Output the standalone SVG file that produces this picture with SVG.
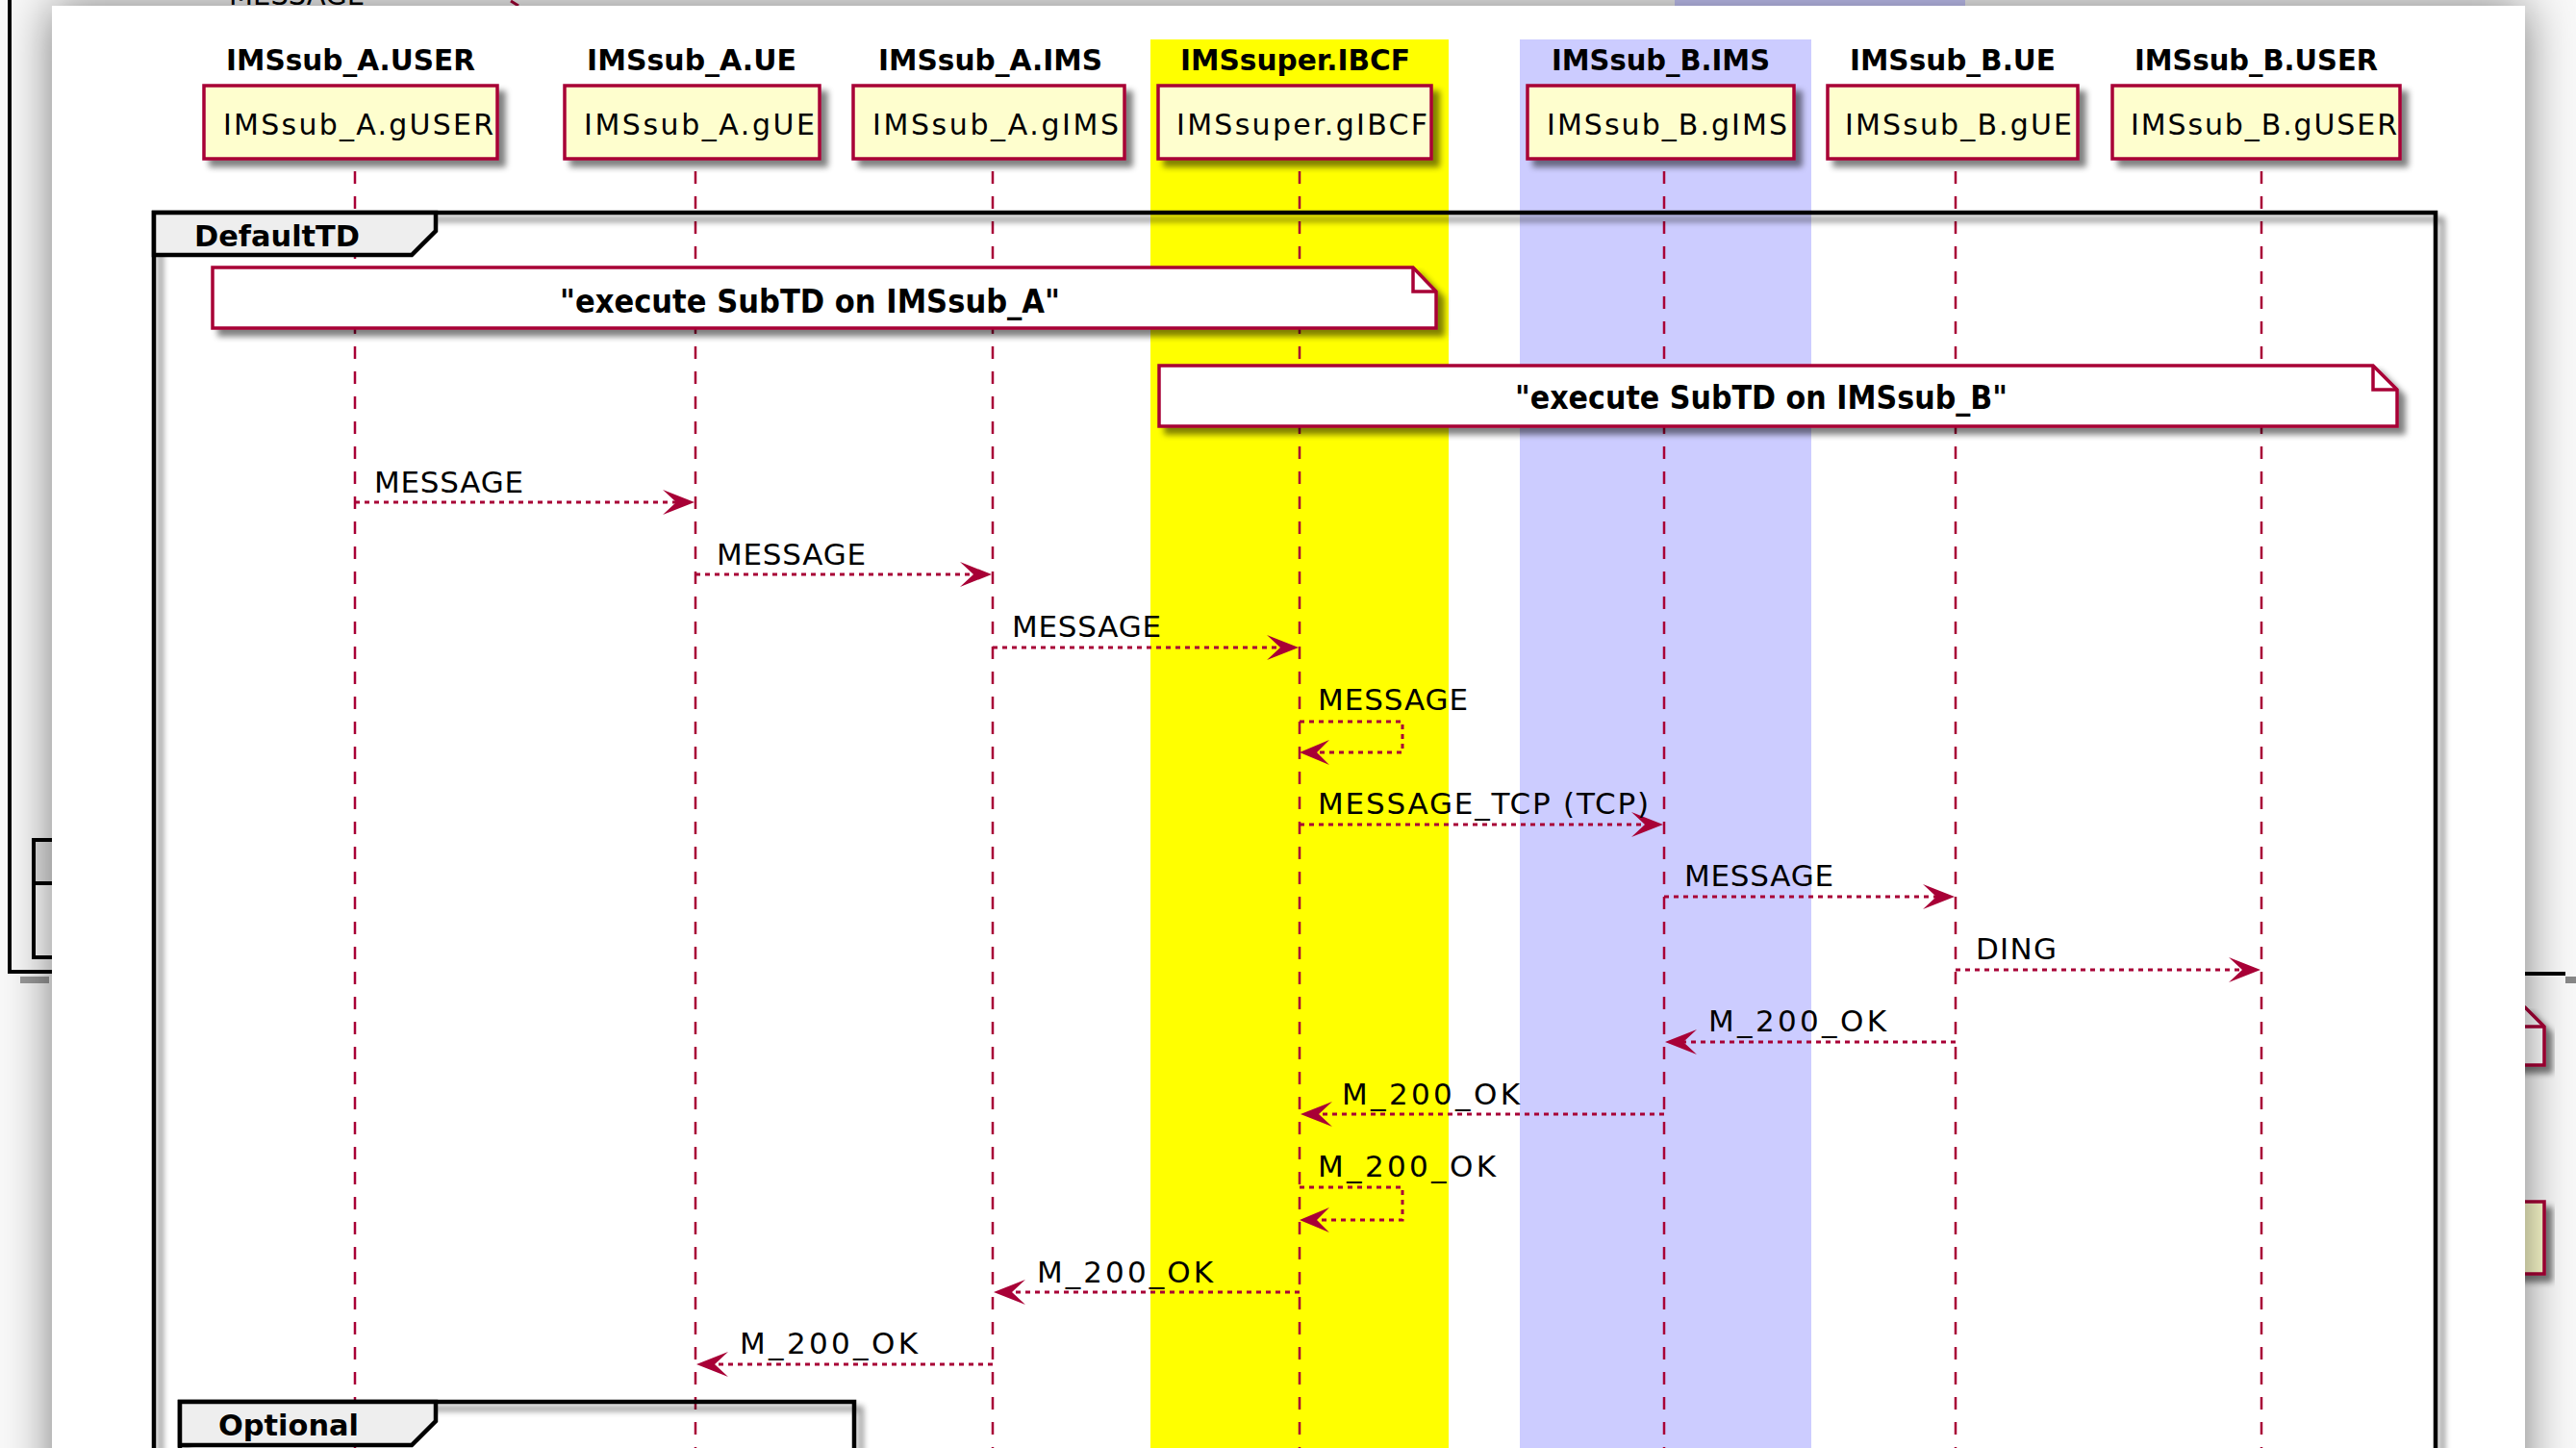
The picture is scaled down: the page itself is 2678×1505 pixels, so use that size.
<svg xmlns="http://www.w3.org/2000/svg" width="2678" height="1505" viewBox="0 0 2678 1505">
<defs>
<style>
.ll{stroke:#A80036;stroke-width:2.5;stroke-dasharray:13,13;fill:none}
.msg{stroke:#A80036;stroke-width:3;stroke-dasharray:5,5;fill:none}
.ah{fill:#A80036;stroke:none}
.pbox{fill:#FEFECE;stroke:#A80036;stroke-width:3.5}
.note{fill:#FFFFFF;stroke:#A80036;stroke-width:3.5}
.fold{fill:none;stroke:#A80036;stroke-width:3.5}
.frm{fill:none;stroke:#000;stroke-width:4.5}
.tab{fill:#EEEEEE;stroke:#000;stroke-width:4.5}
text{font-family:'DejaVu Sans','Liberation Sans',sans-serif;fill:#000}
.tt{font-size:31px;font-weight:bold}
.bt{font-size:30px}
.lb{font-size:31px}
.nt{font-size:34px;font-weight:bold}
.ft{font-size:30px;font-weight:bold}
</style>
<filter id="sh" x="-10%" y="-10%" width="130%" height="150%">
<feGaussianBlur in="SourceAlpha" stdDeviation="3"/>
<feOffset dx="7" dy="7"/>
<feComponentTransfer><feFuncA type="linear" slope="0.5"/></feComponentTransfer>
<feMerge><feMergeNode/><feMergeNode in="SourceGraphic"/></feMerge>
</filter>
<filter id="psh" x="-10%" y="-10%" width="120%" height="120%">
<feGaussianBlur stdDeviation="25"/>
</filter>
</defs>

<!-- background window (dimmed) -->
<g id="background">
<rect x="0" y="0" width="2678" height="1505" fill="#f8f8f8"/>
<rect x="1741" y="0" width="302" height="20" fill="#CCCCFF"/>
<text x="238" y="5" class="lb" textLength="141" lengthAdjust="spacingAndGlyphs">MESSAGE</text>
<line x1="531" y1="1" x2="539" y2="6" stroke="#A80036" stroke-width="3"/>
<line x1="10" y1="0" x2="10" y2="1012" stroke="#000" stroke-width="4"/>
<line x1="8" y1="1010" x2="70" y2="1010" stroke="#000" stroke-width="4"/>
<rect x="21" y="1015" width="30" height="7" fill="#999"/>
<rect x="35" y="873" width="40" height="122" fill="#ffffff" stroke="#000" stroke-width="4"/>
<rect x="37" y="875" width="36" height="43" fill="#e4e4e4"/>
<line x1="35" y1="918" x2="75" y2="918" stroke="#000" stroke-width="4"/>
<line x1="2600" y1="1012" x2="2667" y2="1012" stroke="#000" stroke-width="4"/>
<rect x="2667" y="1015" width="11" height="7" fill="#888"/>
<g filter="url(#sh)">
<path d="M2590,1047 L2625,1047 L2645,1067 L2645,1107 L2590,1107 Z" class="note"/>
</g>
<line x1="2625" y1="1067" x2="2645" y2="1067" class="fold"/>
<rect x="2590" y="1249" width="55" height="75" class="pbox" filter="url(#sh)"/>
<rect x="54" y="6" width="2571" height="1560" fill="#000" opacity="0.5" filter="url(#psh)"/>
</g>

<!-- main panel -->
<rect id="panel" x="54" y="6" width="2571" height="1520" fill="#ffffff"/>

<g id="bands">
<rect x="1196" y="41" width="310" height="1470" fill="#FFFF00"/>
<rect x="1580" y="41" width="303" height="1470" fill="#CCCCFF"/>
</g>

<g id="lifelines">
<line class="ll" x1="369" y1="178" x2="369" y2="1505"/>
<line class="ll" x1="723" y1="178" x2="723" y2="1505"/>
<line class="ll" x1="1032" y1="178" x2="1032" y2="1505"/>
<line class="ll" x1="1351" y1="178" x2="1351" y2="1505"/>
<line class="ll" x1="1730" y1="178" x2="1730" y2="1505"/>
<line class="ll" x1="2033" y1="178" x2="2033" y2="1505"/>
<line class="ll" x1="2351" y1="178" x2="2351" y2="1505"/>
</g>

<g id="frame-DefaultTD">
<rect class="frm" x="160" y="221" width="2372" height="1400" filter="url(#sh)"/>
<path class="tab" d="M160,221 L453,221 L453,240 L428,265 L160,265 Z"/>
<text class="ft" x="202" y="256" textLength="172" lengthAdjust="spacingAndGlyphs">DefaultTD</text>
</g>

<g id="frame-Optional">
<rect class="frm" x="187" y="1457" width="701" height="200" filter="url(#sh)"/>
<path class="tab" d="M187,1457 L453,1457 L453,1477 L428,1502 L187,1502 Z"/>
<text class="ft" x="227" y="1492" textLength="146" lengthAdjust="spacingAndGlyphs">Optional</text>
</g>

<g id="titles">
<text class="tt" x="235" y="73" textLength="259" lengthAdjust="spacingAndGlyphs">IMSsub_A.USER</text>
<text class="tt" x="610" y="73" textLength="218" lengthAdjust="spacingAndGlyphs">IMSsub_A.UE</text>
<text class="tt" x="913" y="73" textLength="233" lengthAdjust="spacingAndGlyphs">IMSsub_A.IMS</text>
<text class="tt" x="1227" y="73" textLength="239" lengthAdjust="spacingAndGlyphs">IMSsuper.IBCF</text>
<text class="tt" x="1613" y="73" textLength="227" lengthAdjust="spacingAndGlyphs">IMSsub_B.IMS</text>
<text class="tt" x="1923" y="73" textLength="214" lengthAdjust="spacingAndGlyphs">IMSsub_B.UE</text>
<text class="tt" x="2219" y="73" textLength="253" lengthAdjust="spacingAndGlyphs">IMSsub_B.USER</text>
</g>

<g id="p-A-gUSER"><rect class="pbox" x="212" y="89" width="305" height="76" filter="url(#sh)"/><text class="bt" x="232" y="140" textLength="281" lengthAdjust="spacing">IMSsub_A.gUSER</text></g>
<g id="p-A-gUE"><rect class="pbox" x="587" y="89" width="265" height="76" filter="url(#sh)"/><text class="bt" x="607" y="140" textLength="240" lengthAdjust="spacing">IMSsub_A.gUE</text></g>
<g id="p-A-gIMS"><rect class="pbox" x="887" y="89" width="282" height="76" filter="url(#sh)"/><text class="bt" x="907" y="140" textLength="256" lengthAdjust="spacing">IMSsub_A.gIMS</text></g>
<g id="p-super-gIBCF"><rect class="pbox" x="1204" y="89" width="284" height="76" filter="url(#sh)"/><text class="bt" x="1223" y="140" textLength="261" lengthAdjust="spacing">IMSsuper.gIBCF</text></g>
<g id="p-B-gIMS"><rect class="pbox" x="1588" y="89" width="277" height="76" filter="url(#sh)"/><text class="bt" x="1608" y="140" textLength="250" lengthAdjust="spacing">IMSsub_B.gIMS</text></g>
<g id="p-B-gUE"><rect class="pbox" x="1900" y="89" width="260" height="76" filter="url(#sh)"/><text class="bt" x="1918" y="140" textLength="236" lengthAdjust="spacing">IMSsub_B.gUE</text></g>
<g id="p-B-gUSER"><rect class="pbox" x="2196" y="89" width="299" height="76" filter="url(#sh)"/><text class="bt" x="2215" y="140" textLength="277" lengthAdjust="spacing">IMSsub_B.gUSER</text></g>

<g id="note-A">
<path class="note" d="M221,278 L1469,278 L1493,303 L1493,341 L221,341 Z" filter="url(#sh)"/>
<path class="fold" d="M1469,278 L1469,303 L1493,303"/>
<text class="nt" x="582" y="325" textLength="520" lengthAdjust="spacingAndGlyphs">"execute SubTD on IMSsub_A"</text>
</g>
<g id="note-B">
<path class="note" d="M1205,380 L2467,380 L2492,405 L2492,443 L1205,443 Z" filter="url(#sh)"/>
<path class="fold" d="M2467,380 L2467,405 L2492,405"/>
<text class="nt" x="1575" y="425" textLength="512" lengthAdjust="spacingAndGlyphs">"execute SubTD on IMSsub_B"</text>
</g>

<g id="connectors">
<line class="msg" x1="369" y1="522" x2="716" y2="522"/><polygon class="ah" points="689,509 722,522 689,535 703,522"/>
<text class="lb" x="389" y="512" textLength="155" lengthAdjust="spacing">MESSAGE</text>

<line class="msg" x1="723" y1="597" x2="1025" y2="597"/><polygon class="ah" points="998,584 1031,597 998,610 1012,597"/>
<text class="lb" x="745" y="587" textLength="155" lengthAdjust="spacing">MESSAGE</text>

<line class="msg" x1="1032" y1="673" x2="1344" y2="673"/><polygon class="ah" points="1317,660 1350,673 1317,686 1331,673"/>
<text class="lb" x="1052" y="662" textLength="155" lengthAdjust="spacing">MESSAGE</text>

<path class="msg" d="M1351,750 H1458 V782 H1357"/><polygon class="ah" points="1382,769 1351,782 1382,795 1369,782"/>
<text class="lb" x="1370" y="738" textLength="156" lengthAdjust="spacing">MESSAGE</text>

<line class="msg" x1="1351" y1="857" x2="1723" y2="857"/><polygon class="ah" points="1696,844 1729,857 1696,870 1710,857"/>
<text class="lb" x="1370" y="846" textLength="344" lengthAdjust="spacing">MESSAGE_TCP (TCP)</text>

<line class="msg" x1="1730" y1="932" x2="2026" y2="932"/><polygon class="ah" points="1999,919 2032,932 1999,945 2013,932"/>
<text class="lb" x="1751" y="921" textLength="155" lengthAdjust="spacing">MESSAGE</text>

<line class="msg" x1="2033" y1="1008" x2="2344" y2="1008"/><polygon class="ah" points="2317,995 2350,1008 2317,1021 2331,1008"/>
<text class="lb" x="2054" y="997" textLength="84" lengthAdjust="spacing">DING</text>

<line class="msg" x1="2033" y1="1083" x2="1737" y2="1083"/><polygon class="ah" points="1764,1070 1731,1083 1764,1096 1750,1083"/>
<text class="lb" x="1776" y="1072" textLength="185" lengthAdjust="spacing">M_200_OK</text>

<line class="msg" x1="1730" y1="1158" x2="1358" y2="1158"/><polygon class="ah" points="1385,1145 1352,1158 1385,1171 1371,1158"/>
<text class="lb" x="1395" y="1148" textLength="185" lengthAdjust="spacing">M_200_OK</text>

<path class="msg" d="M1351,1234 H1458 V1268 H1357"/><polygon class="ah" points="1382,1255 1351,1268 1382,1281 1369,1268"/>
<text class="lb" x="1370" y="1223" textLength="185" lengthAdjust="spacing">M_200_OK</text>

<line class="msg" x1="1351" y1="1343" x2="1039" y2="1343"/><polygon class="ah" points="1066,1330 1033,1343 1066,1356 1052,1343"/>
<text class="lb" x="1078" y="1333" textLength="183" lengthAdjust="spacing">M_200_OK</text>

<line class="msg" x1="1032" y1="1418" x2="730" y2="1418"/><polygon class="ah" points="757,1405 724,1418 757,1431 743,1418"/>
<text class="lb" x="769" y="1407" textLength="185" lengthAdjust="spacing">M_200_OK</text>
</g>
</svg>
